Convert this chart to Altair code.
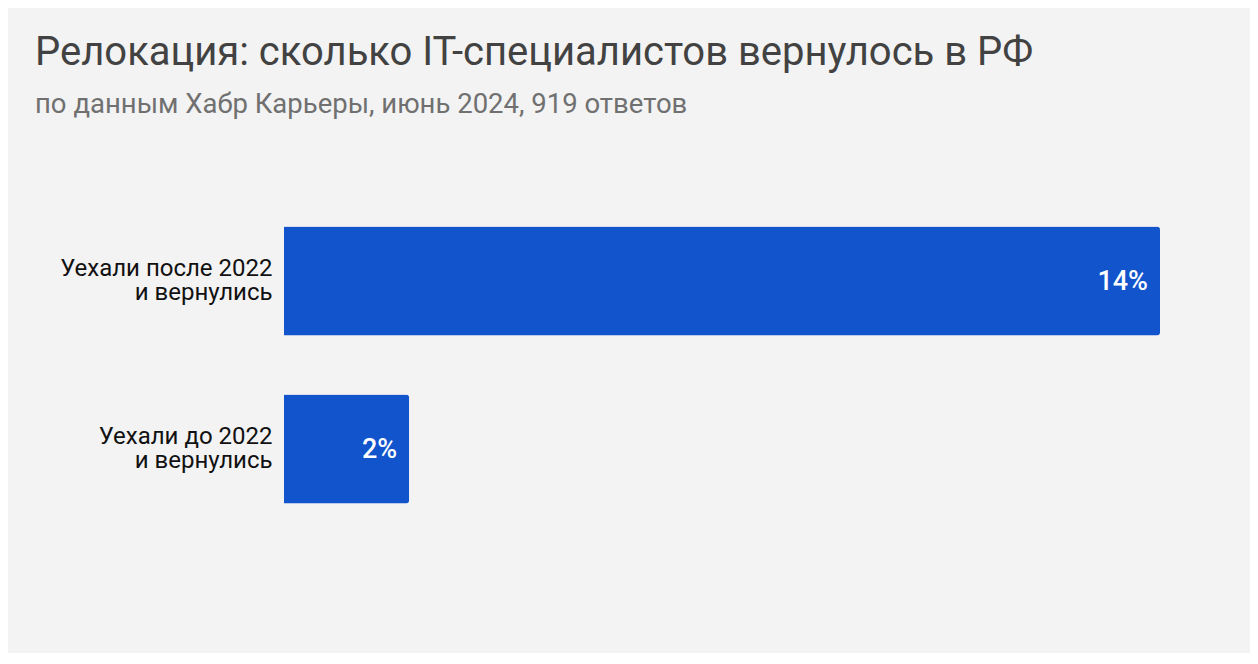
import altair as alt
import pandas as pd

categories = ["Уехали после 2022\nи вернулись", "Уехали до 2022\nи вернулись"]
values = [14, 2]
labels = ["14%", "2%"]

df = pd.DataFrame({"cat": categories, "val": values, "lab": labels})

BLUE = "#1254cc"

y_enc = alt.Y(
    "cat:N",
    sort=categories,
    title=None,
    scale=alt.Scale(paddingInner=0.35, paddingOuter=0.175),
    axis=alt.Axis(
        labelExpr="split(datum.label, '\\n')",
        labelFont="Roboto",
        labelFontSize=24,
        labelColor="#111111",
        labelPadding=12,
        labelLineHeight=24,
        labelOffset=-12,
        ticks=False,
        domain=False,
        labelLimit=400,
    ),
)
x_enc = alt.X("val:Q", scale=alt.Scale(domain=[0, 14], nice=False), axis=None)

bars = alt.Chart(df).mark_bar(
    color=BLUE, cornerRadiusTopRight=3, cornerRadiusBottomRight=3
).encode(x=x_enc, y=y_enc)

text = alt.Chart(df).mark_text(
    align="right", baseline="middle", dx=-12, dy=1, color="white",
    font="Roboto", fontSize=27, fontWeight=500
).encode(x=x_enc, y=alt.Y("cat:N", sort=categories), text="lab:N")

chart = (bars + text).properties(
    width=876,
    height=336,
    background="#f3f3f3",
    padding={"left": 276, "top": 189, "right": 90, "bottom": 120},
    autosize=alt.AutoSizeParams(type="none"),
    title=alt.TitleParams(
        text="Релокация: сколько IT-специалистов вернулось в РФ",
        subtitle="по данным Хабр Карьеры, июнь 2024, 919 ответов",
        anchor="start",
        frame="group",
        dx=-249,
        offset=79,
        font="Roboto",
        fontSize=40,
        fontWeight="normal",
        color="#424242",
        subtitleFont="Roboto",
        subtitleFontSize=27.5,
        subtitleColor="#707070",
        subtitlePadding=18,
    ),
).configure_view(stroke=None)

chart.save("out.html", embed_options={"renderer": "svg", "actions": False})
